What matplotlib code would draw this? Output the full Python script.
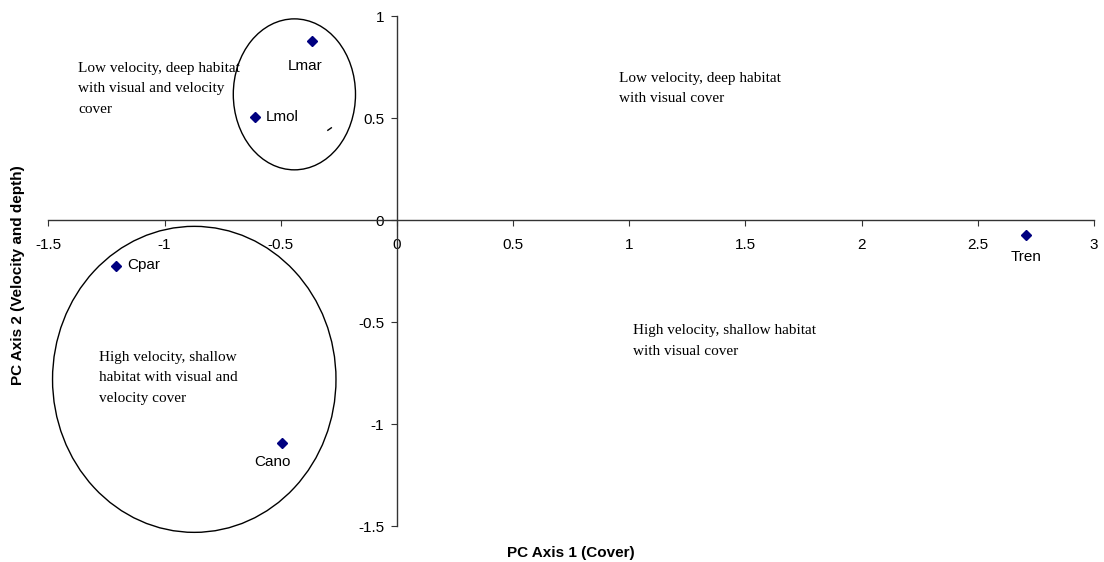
import matplotlib.pyplot as plt
from matplotlib.patches import Ellipse

# PCA scores
species = ["Lmar", "Lmol", "Cpar", "Cano", "Tren"]
pc1 = [-0.365, -0.612, -1.21, -0.493, 2.707]
pc2 = [0.877, 0.505, -0.227, -1.093, -0.074]

x_ticks = [-1.5, -1, -0.5, 0, 0.5, 1, 1.5, 2, 2.5, 3]
y_ticks = [-1.5, -1, -0.5, 0, 0.5, 1]

habitat_notes = [
    ("Low velocity, deep habitat\nwith visual and velocity\ncover", -1.371, 0.776),
    ("Low velocity, deep habitat\nwith visual cover", 0.956, 0.727),
    ("High velocity, shallow habitat\nwith visual cover", 1.017, -0.511),
    ("High velocity, shallow\nhabitat with visual and\nvelocity cover", -1.283, -0.641),
]

# label offsets in points (dx, dy, ha)
label_pos = {
    "Lmar": (-5, -18, "center"),
    "Lmol": (8, 0, "left"),
    "Cpar": (8, 1, "left"),
    "Cano": (-7, -14, "center"),
    "Tren": (0, -16, "center"),
}

sans = "Liberation Sans"
serif = "Liberation Serif"

fig = plt.figure(figsize=(11.04, 5.62), dpi=100)
ax = fig.add_axes([0.0438, 0.064, 0.947, 0.9075])

ax.plot(pc1, pc2, ls="none", marker="D", ms=5.5, color="#000080", clip_on=False, zorder=3)
for name, x, y in zip(species, pc1, pc2):
    dx, dy, ha = label_pos[name]
    ax.annotate(name, (x, y), xytext=(dx, dy), textcoords="offset points",
                ha=ha, va="center", fontsize=11, family=sans)

for txt, x, y in habitat_notes:
    ax.text(x, y, txt, fontsize=11, family=serif, va="top", ha="left", linespacing=1.74)

ax.add_patch(Ellipse((-0.441, 0.616), 0.526, 0.74, fill=False, lw=1, ec="black", clip_on=False))
ax.add_patch(Ellipse((-0.872, -0.781), 1.22, 1.5, fill=False, lw=1, ec="black", clip_on=False))
# tiny stray stroke inside the upper ellipse
ax.plot([-0.297, -0.282], [0.44, 0.452], color="black", lw=1)

ax.set_xlim(-1.5, 3)
ax.set_ylim(-1.5, 1)
ax.spines["left"].set_position(("data", 0))
ax.spines["bottom"].set_position(("data", 0))
ax.spines["top"].set_visible(False)
ax.spines["right"].set_visible(False)
for s in ["left", "bottom"]:
    ax.spines[s].set_color("#333333")
    ax.spines[s].set_linewidth(1)

ax.set_xticks(x_ticks)
ax.set_yticks(y_ticks)
ax.set_xticklabels([f"{v:g}" for v in x_ticks], family=sans, fontsize=11)
ax.set_yticklabels([f"{v:g}" for v in y_ticks], family=sans, fontsize=11)
ax.tick_params(axis="x", direction="out", length=4, pad=9, color="#333333")
ax.tick_params(axis="y", direction="out", length=4, pad=5, color="#333333")
ax.patch.set_visible(False)

fig.text(0.517, 0.016, "PC Axis 1 (Cover)", ha="center", va="center",
         fontsize=11, fontweight="bold", family=sans)
fig.text(0.016, 0.51, "PC Axis 2 (Velocity and depth)", ha="center", va="center",
         rotation=90, fontsize=11, fontweight="bold", family=sans)

fig.savefig("out.png", dpi=100)
